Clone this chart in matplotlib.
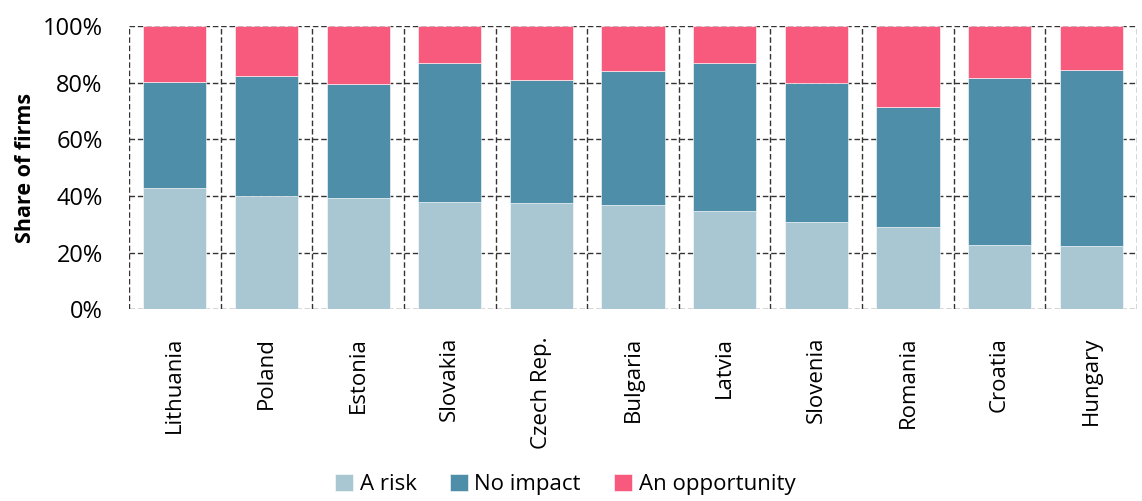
import numpy as np
import matplotlib.pyplot as plt
from matplotlib.ticker import PercentFormatter

countries = ['Lithuania', 'Poland', 'Estonia', 'Slovakia', 'Czech Rep.', 'Bulgaria',
             'Latvia', 'Slovenia', 'Romania', 'Croatia', 'Hungary']
# shares in percent
risk = [42.7, 40.0, 39.3, 37.9, 37.5, 36.7, 34.7, 30.6, 28.9, 22.8, 22.3]
no_impact = [37.6, 42.3, 40.2, 48.9, 43.6, 47.3, 52.1, 49.3, 42.5, 59.0, 62.3]
opportunity = [19.7, 17.7, 20.5, 13.2, 18.9, 16.0, 13.2, 20.1, 28.6, 18.2, 15.4]

series_names = ['A risk', 'No impact', 'An opportunity']
colors = ['#a8c7d2', '#4f8ea8', '#f75a7c']

plt.rcParams['font.family'] = ['Open Sans', 'DejaVu Sans']

fig, ax = plt.subplots(figsize=(11.42, 5.01), dpi=100)
fig.subplots_adjust(left=0.113, right=0.9956, top=0.948, bottom=0.383)

x = np.arange(len(countries))
bottom = np.zeros(len(countries))
for values, name, color in zip([risk, no_impact, opportunity], series_names, colors):
  ax.bar(x, values, width=0.69, bottom=bottom, color=color, label=name,
         edgecolor='white', linewidth=0.4, zorder=3)
  bottom += np.array(values)

ax.set_xlim(-0.5, len(countries) - 0.5)
ax.set_ylim(0, 100)
ax.set_yticks(np.arange(0, 101, 20))
ax.yaxis.set_major_formatter(PercentFormatter(decimals=0))
ax.set_xticks(x)
ax.set_xticklabels(countries, rotation=90, fontsize=16)
ax.set_xticks(np.arange(-0.5, len(countries), 1.0), minor=True)
ax.tick_params(axis='y', labelsize=17, length=0, pad=19)
ax.tick_params(axis='x', which='both', length=0, pad=20)

ax.grid(axis='y', which='major', color='#333333', linestyle=(0, (4, 2)), linewidth=1, zorder=0)
ax.grid(axis='x', which='minor', color='#333333', linestyle=(0, (4, 2)), linewidth=1, zorder=0)
ax.grid(axis='x', which='major', visible=False)
for spine in ax.spines.values():
  spine.set_visible(False)

ax.set_ylabel('Share of firms', fontsize=15.5, fontweight='bold', labelpad=5)

fig.legend(loc='lower center', bbox_to_anchor=(0.495, -0.028), ncol=3, frameon=False,
           fontsize=16, handlelength=0.8, handleheight=0.8, handletextpad=0.3,
           columnspacing=1.5)

fig.savefig('out.png', dpi=100)
